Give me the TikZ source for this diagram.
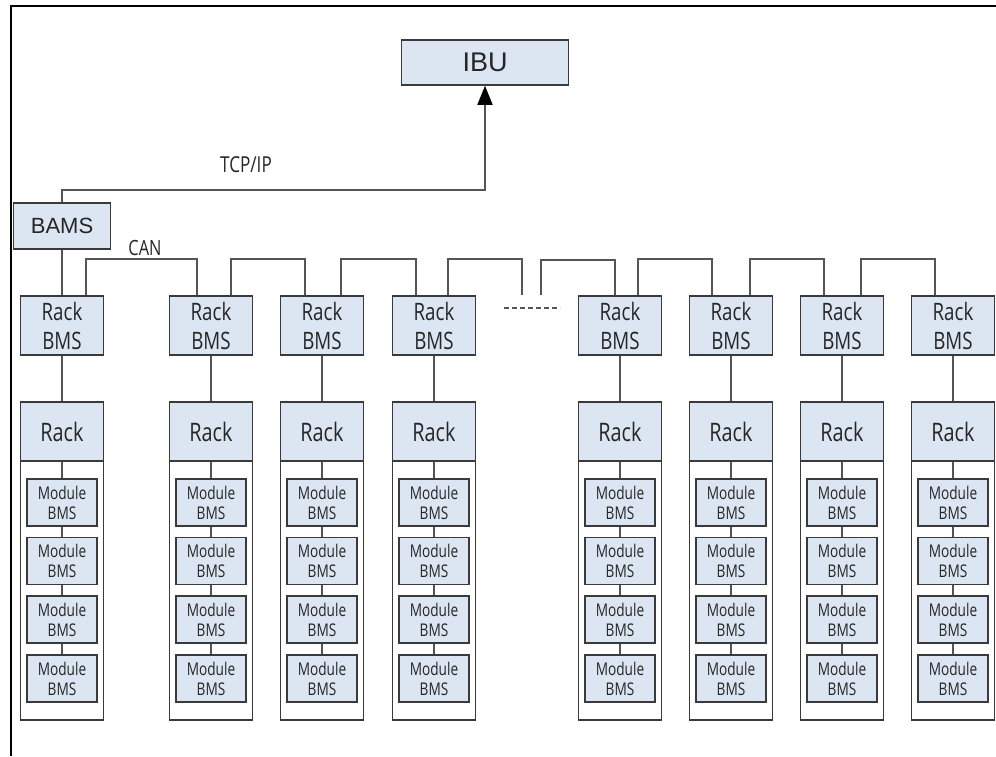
\documentclass[tikz,border=0pt]{standalone}
\usepackage{fontspec}
\setmainfont{Liberation Sans}
\newfontfamily\nar[FakeStretch=0.78]{Open Sans}
\usetikzlibrary{arrows.meta}
\definecolor{boxfill}{HTML}{DCE6F2}
\definecolor{boxline}{HTML}{3A3A3A}
\definecolor{wire}{HTML}{555555}
\begin{document}
\begin{tikzpicture}[x=1pt,y=-1pt,
  box/.style={rectangle,draw=boxline,fill=boxfill,line width=1.5pt,inner sep=0pt,align=center,text=black!85},
  rackbms/.style={box,minimum width=83pt,minimum height=59pt,font=\nar\fontsize{24}{29}\selectfont},
  rackhead/.style={box,minimum width=83pt,minimum height=59pt,font=\nar\fontsize{25.5}{28}\selectfont},
  container/.style={rectangle,draw=boxline,line width=1.5pt,minimum width=83pt,minimum height=318pt,inner sep=0pt},
  modbms/.style={box,minimum width=70pt,minimum height=47pt,font=\nar\fontsize{17.5}{20}\selectfont},
  wirestyle/.style={draw=wire,line width=1.6pt},
  lbl/.style={font=\nar\fontsize{22}{24}\selectfont,inner sep=0pt,text=black!85}
]
\useasboundingbox (0,0) rectangle (996,756);
\fill[white] (0,0) rectangle (996,756);
% frame
\coordinate (fa) at (11,756);
\coordinate (fb) at (11,6);
\coordinate (fc) at (996,6);
\draw[line width=1.8pt,black] (fa) -- (fb) -- (fc);

\node[box,minimum width=167pt,minimum height=45pt,font=\fontsize{27}{30}\selectfont] (ibu) at (485,62.5) {IBU};
\node[box,minimum width=97pt,minimum height=46pt,font=\fontsize{22}{25}\selectfont] (bams) at (62,226) {BAMS};

\foreach \i/\cx in {1/62,2/211,3/322,4/434,5/620,6/731,7/842,8/953}{
  \node[rackbms] (rb\i) at (\cx,325.5) {Rack\\BMS};
  \node[container] (ct\i) at (\cx,561) {};
  \node[rackhead] (rk\i) at (\cx,431.5) {Rack};
  \node[modbms] (m\i-1) at (\cx,502.5) {Module\\BMS};
  \node[modbms] (m\i-2) at (\cx,561) {Module\\BMS};
  \node[modbms] (m\i-3) at (\cx,619.5) {Module\\BMS};
  \node[modbms] (m\i-4) at (\cx,678.5) {Module\\BMS};
  \draw[wirestyle] (rb\i.south) -- (rk\i.north);
  \draw[wirestyle] (rk\i.south) -- (m\i-1.north);
  \draw[wirestyle] (m\i-1.south) -- (m\i-2.north);
  \draw[wirestyle] (m\i-2.south) -- (m\i-3.north);
  \draw[wirestyle] (m\i-3.south) -- (m\i-4.north);
}

% TCP/IP link
\draw[wirestyle,-{Triangle[length=19pt,width=15pt,color=black]}] (bams.north) -- ++(0,-12) -| (ibu.south);
\node[lbl] (tcp) at (246,165) {TCP/IP};

% BAMS to first rack BMS
\draw[wirestyle] (bams.south) -- (rb1.north);
\node[lbl,font=\nar\fontsize{21}{24}\selectfont] (can) at (145,248) {CAN};

% CAN bus links
\draw[wirestyle] ([xshift=24pt]rb1.north) -- ++(0,-36) -| ([xshift=-14pt]rb2.north);
\draw[wirestyle] ([xshift=20pt]rb2.north) -- ++(0,-36) -| ([xshift=-17pt]rb3.north);
\draw[wirestyle] ([xshift=19pt]rb3.north) -- ++(0,-36) -| ([xshift=-18pt]rb4.north);
\coordinate (br1) at (522,295);
\coordinate (br2) at (541,295);
\draw[wirestyle] ([xshift=14pt]rb4.north) -- ++(0,-36) -| (br1);
\draw[wirestyle] (br2) -- ++(0,-35) -| ([xshift=-5pt]rb5.north);
\draw[wirestyle] ([xshift=18pt]rb5.north) -- ++(0,-36) -| ([xshift=-19pt]rb6.north);
\draw[wirestyle] ([xshift=19pt]rb6.north) -- ++(0,-36) -| ([xshift=-18pt]rb7.north);
\draw[wirestyle] ([xshift=19pt]rb7.north) -- ++(0,-36) -| ([xshift=-18pt]rb8.north);

% dashed gap
\coordinate (d1) at (504,308);
\coordinate (d2) at (560,308);
\draw[wirestyle,dash pattern=on 5pt off 3pt] (d1) -- (d2);
\end{tikzpicture}
\end{document}
